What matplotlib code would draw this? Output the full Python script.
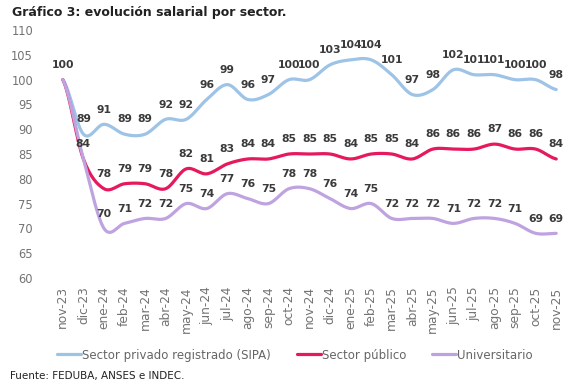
#!/usr/bin/env python3
"""Gráfico 3: evolución salarial por sector"""
import numpy as np
import matplotlib
matplotlib.use('Agg')
import matplotlib.pyplot as plt

months = ['nov-23', 'dic-23', 'ene-24', 'feb-24', 'mar-24', 'abr-24', 'may-24',
          'jun-24', 'jul-24', 'ago-24', 'sep-24', 'oct-24', 'nov-24', 'dic-24',
          'ene-25', 'feb-25', 'mar-25', 'abr-25', 'may-25', 'jun-25', 'jul-25',
          'ago-25', 'sep-25', 'oct-25', 'nov-25']
sipa = [100, 89, 91, 89, 89, 92, 92, 96, 99, 96, 97, 100, 100, 103, 104, 104,
        101, 97, 98, 102, 101, 101, 100, 100, 98]
publico = [100, 84, 78, 79, 79, 78, 82, 81, 83, 84, 84, 85, 85, 85, 84, 85,
           85, 84, 86, 86, 86, 87, 86, 86, 84]
universitario = [100, 84, 70, 71, 72, 72, 75, 74, 77, 76, 75, 78, 78, 76, 74,
                 75, 72, 72, 72, 71, 72, 72, 71, 69, 69]

series = [
    ('Sector privado registrado (SIPA)', sipa, '#9DC3E6'),
    ('Sector público', publico, '#E5195B'),
    ('Universitario', universitario, '#BFA3E0'),
]


def smooth(y, n=16):
    """Curva suavizada tipo Catmull-Rom que pasa por los puntos"""
    y = np.asarray(y, dtype=float)
    yp = np.concatenate([[y[0]], y, [y[-1]]])
    t = np.linspace(0, 1, n, endpoint=False)
    xs, ys = [], []
    for i in range(len(y) - 1):
        p0, p1, p2, p3 = yp[i:i + 4]
        ys.append(0.5 * (2 * p1 + (-p0 + p2) * t + (2 * p0 - 5 * p1 + 4 * p2 - p3) * t ** 2
                         + (-p0 + 3 * p1 - 3 * p2 + p3) * t ** 3))
        xs.append(i + t)
    xs.append([len(y) - 1])
    ys.append([y[-1]])
    return np.concatenate(xs), np.concatenate(ys)


fig = plt.figure(figsize=(5.84, 3.86), dpi=100)
ax = fig.add_axes([0.090, 0.280, 0.880, 0.642])

x = np.arange(len(months))
done = set()
for name, vals, color in series:
    sx, sy = smooth(vals)
    ax.plot(sx, sy, color=color, lw=2.3, label=name, solid_capstyle='round')
    for xi, v in zip(x, vals):
        # etiquetas repetidas en el mismo punto se dibujan una vez
        if (xi, v) in done:
            continue
        done.add((xi, v))
        ax.annotate(str(v), (xi, v), xytext=(0, 7), textcoords='offset points',
                    ha='center', va='bottom', fontsize=7.8, fontweight='bold',
                    color='#3a3a3a')

ax.set_xlim(-0.5, len(months) - 0.5)
ax.set_ylim(60, 110)
ax.set_yticks(np.arange(60, 111, 5))
ax.set_xticks(x)
ax.set_xticklabels(months, rotation=90, fontsize=8.8, color='#737373')
ax.tick_params(axis='y', labelsize=8.3, labelcolor='#737373', length=0, pad=14)
ax.tick_params(axis='x', length=0, pad=6)
for s in ax.spines.values():
    s.set_visible(False)

fig.text(0.02, 0.968, 'Gráfico 3: evolución salarial por sector.', fontsize=9,
         fontweight='bold', color='#222222', va='center')
fig.legend(loc='center', bbox_to_anchor=(0.505, 0.080), ncol=3, frameon=False,
           fontsize=8.5, handlelength=2.0, handletextpad=0.1, columnspacing=2.2,
           labelcolor='#666666')
fig.text(0.017, 0.026, 'Fuente: FEDUBA, ANSES e INDEC.', fontsize=7.5,
         color='#222222', va='center')

fig.savefig('out.png', dpi=100)
